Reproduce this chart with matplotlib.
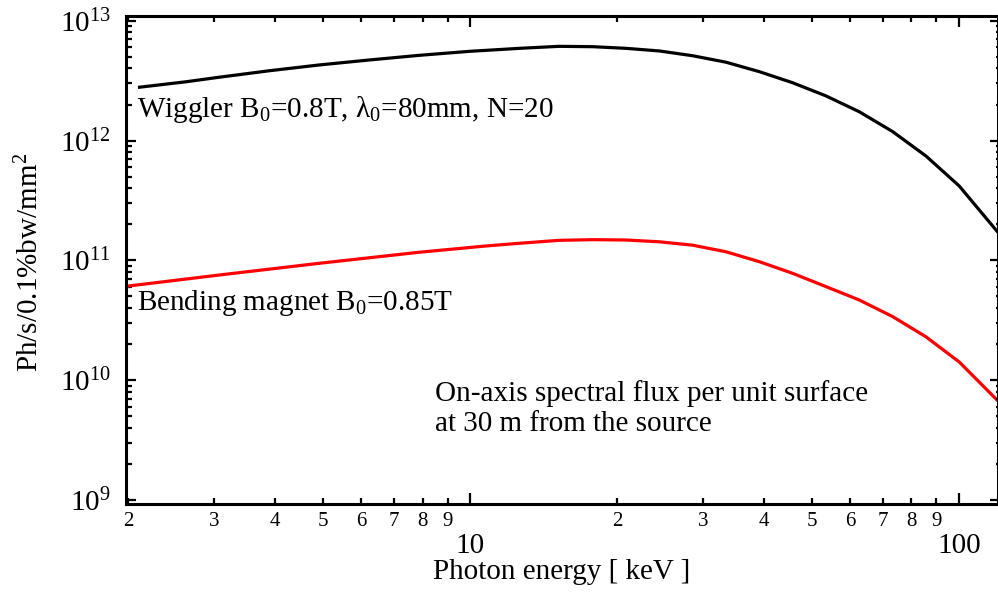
import numpy as np
import matplotlib
matplotlib.use("Agg")
import matplotlib.pyplot as plt
from matplotlib.ticker import LogLocator, FuncFormatter, NullFormatter, LogFormatterMathtext

plt.rcParams['font.family'] = ['Liberation Serif', 'DejaVu Serif']
plt.rcParams['mathtext.fontset'] = 'custom'
plt.rcParams['mathtext.rm'] = 'Liberation Serif'
plt.rcParams['mathtext.it'] = 'Liberation Serif:italic'

# photon energy [keV] and flux values
wiggler_energy = [2.11, 2.63, 3.07, 3.89, 4.92, 6.23, 7.88, 9.98, 12.63, 15.2,
                  17.83, 20.86, 24.41, 28.55, 33.42, 39.1, 45.72, 53.51, 62.6,
                  73.2, 85.7, 100.2, 119.9]
wiggler_flux = [2.79e12, 3.10e12, 3.38e12, 3.83e12, 4.28e12, 4.71e12, 5.15e12,
                5.56e12, 5.89e12, 6.12e12, 6.08e12, 5.89e12, 5.60e12, 5.11e12,
                4.51e12, 3.76e12, 3.04e12, 2.36e12, 1.74e12, 1.19e12, 7.43e11,
                4.18e11, 1.74e11]

bm_energy = [2.0, 3.07, 4.92, 7.88, 10.8, 12.63, 15.2, 17.83, 20.86, 24.41,
             28.55, 33.42, 39.1, 45.72, 53.51, 62.6, 73.2, 85.7, 100.2, 119.9]
bm_flux = [6.11e10, 7.55e10, 9.46e10, 1.17e11, 1.32e11, 1.39e11, 1.47e11,
           1.49e11, 1.48e11, 1.43e11, 1.34e11, 1.18e11, 9.75e10, 7.80e10,
           6.04e10, 4.67e10, 3.40e10, 2.30e10, 1.42e10, 6.8e9]

fig = plt.figure(figsize=(9.98, 5.94), dpi=100)
ax = fig.add_axes([0.1263, 0.1515, 0.9995 - 0.1263, 0.9731 - 0.1515])

ax.plot(wiggler_energy, wiggler_flux, color='black', lw=2.3,
        solid_joinstyle='round')
ax.plot(bm_energy, bm_flux, color='#ff0000', lw=2.3, solid_joinstyle='round')

ax.set_xscale('log')
ax.set_yscale('log')
ax.set_xlim(1.98, 120)
ax.set_ylim(0.926e9, 1.097e13)

for s in ax.spines.values():
    s.set_linewidth(2.2)

# x axis: big decade labels lower down, small digit labels for the minors
ax.xaxis.set_major_locator(LogLocator(base=10, subs=[1.0]))
ax.xaxis.set_minor_locator(LogLocator(base=10, subs=np.arange(2, 10)))
ax.xaxis.set_major_formatter(FuncFormatter(lambda v, p: f"{v:g}"))
ax.xaxis.set_minor_formatter(FuncFormatter(
    lambda v, p: str(int(round(v / 10 ** np.floor(np.log10(v) + 1e-9))))))
ax.tick_params(axis='x', which='major', direction='in', top=True,
               length=8, width=1.6, labelsize=21, pad=21)
ax.tick_params(axis='x', which='minor', direction='in', top=True,
               length=4.5, width=1.6, labelsize=15, pad=6)

# y axis
ax.yaxis.set_major_locator(LogLocator(base=10, numticks=10))
ax.yaxis.set_minor_locator(LogLocator(base=10, subs=np.arange(2, 10), numticks=10))
ax.yaxis.set_major_formatter(LogFormatterMathtext())
ax.yaxis.set_minor_formatter(NullFormatter())
ax.tick_params(axis='y', which='major', direction='in', right=False,
               length=7.5, width=1.6, labelsize=21, pad=11)
ax.tick_params(axis='y', which='minor', direction='in', right=False,
               length=4.3, width=1.6)

# right side ticks are shorter
ax2 = ax.twinx()
ax2.set_yscale('log')
ax2.set_ylim(ax.get_ylim())
ax2.yaxis.set_major_locator(LogLocator(base=10, numticks=10))
ax2.yaxis.set_minor_locator(LogLocator(base=10, subs=np.arange(2, 10), numticks=10))
ax2.yaxis.set_major_formatter(NullFormatter())
ax2.yaxis.set_minor_formatter(NullFormatter())
ax2.tick_params(which='major', direction='in', length=6, width=1.6)
ax2.tick_params(which='minor', direction='in', length=1.8, width=1.6)
for s in ax2.spines.values():
    s.set_visible(False)

ax.set_xlabel('Photon energy [ keV ]', fontsize=21, labelpad=0)
ax.set_ylabel('Ph/s/0.1%bw/mm$^2$', fontsize=21)
ax.yaxis.set_label_coords(-0.094, 0.496)

ax.text(0.0126, 0.793, 'Wiggler B$_0$=0.8T, λ$_0$=80mm, N=20',
        transform=ax.transAxes, fontsize=21, va='baseline', ha='left')
ax.text(0.0126, 0.3975, 'Bending magnet B$_0$=0.85T',
        transform=ax.transAxes, fontsize=21, va='baseline', ha='left')
ax.text(0.355, 0.15, 'On-axis spectral flux per unit surface\nat 30 m from the source',
        transform=ax.transAxes, fontsize=21, va='baseline', ha='left',
        linespacing=1.17)

fig.savefig('out.png', dpi=100)
